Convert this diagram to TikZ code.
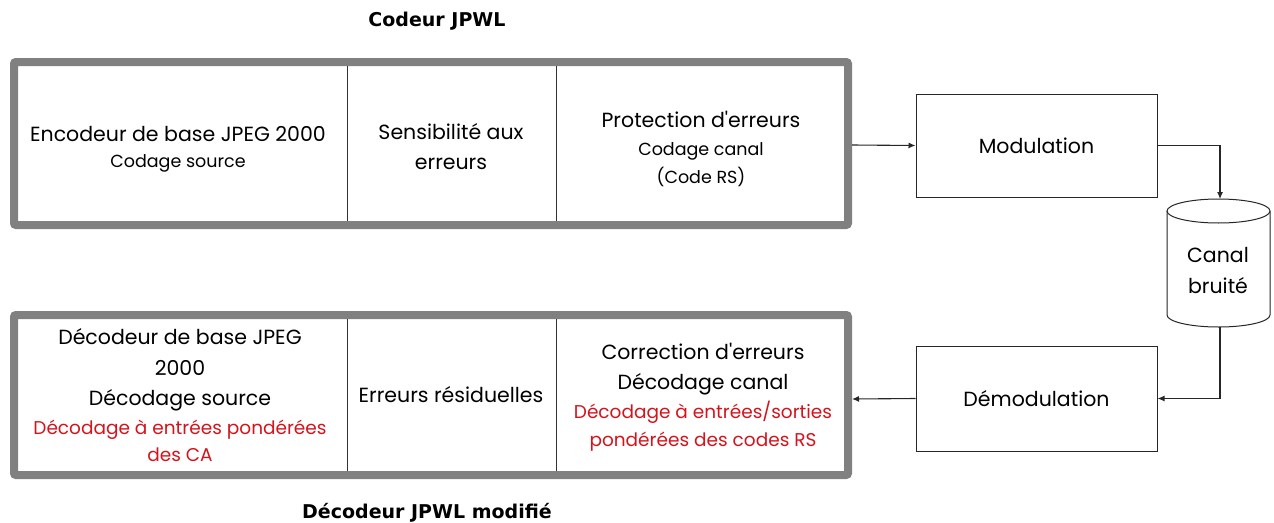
\documentclass[tikz,border=0pt]{standalone}
\usepackage{fontspec}
\setmainfont{Poppins}
\newfontfamily\titlefont{DejaVu Sans}
\usetikzlibrary{arrows.meta}
\definecolor{frame}{HTML}{808080}
\definecolor{redtxt}{HTML}{D4141C}
\tikzset{
  outer/.style={draw=frame, line width=8pt, rounded corners=2pt, fill=white},
  divider/.style={draw=black!80, line width=0.9pt},
  plainbox/.style={draw=black!85, line width=1pt, fill=white},
  conn/.style={draw=black!85, line width=1.1pt, -{Latex[length=7pt,width=6pt]}},
  ln/.style={anchor=base, inner sep=0pt, font=\fontsize{20.5}{24}\selectfont},
  lnsmall/.style={anchor=base, inner sep=0pt, font=\fontsize{17.5}{21}\selectfont},
  lnred/.style={anchor=base, inner sep=0pt, text=redtxt, font=\fontsize{18.5}{22}\selectfont},
  ttl/.style={anchor=base, inner sep=0pt, font=\titlefont\bfseries\fontsize{19}{22}\selectfont},
}
\begin{document}
\begin{tikzpicture}[x=1pt,y=-1pt]
\useasboundingbox (0,0) rectangle (1274,522);
% titles
\node[ttl] (t1) at (437,27) {Codeur JPWL};
\node[ttl] (t2) at (427,518) {Décodeur JPWL modifié};
% top encoder frame
\path[outer] (14,62) rectangle (848,225);
\draw[divider] (347,66) -- (347,221);
\draw[divider] (556,66) -- (556,221);
\coordinate (topR) at (852,145);
\node[ln] (e1a) at (178,141) {Encodeur de base JPEG 2000};
\node[lnsmall] (e1b) at (178,167) {Codage source};
\node[ln] (e2a) at (451,139) {Sensibilité aux};
\node[ln] (e2b) at (451,169) {erreurs};
\node[ln] (e3a) at (701,127) {Protection d\textquotesingle erreurs};
\node[lnsmall] (e3b) at (701,155) {Codage canal};
\node[lnsmall] (e3c) at (701,183) {(Code RS)};
% bottom decoder frame
\path[outer] (14,315) rectangle (848,475);
\draw[divider] (347,319) -- (347,471);
\draw[divider] (556,319) -- (556,471);
\coordinate (botR) at (852,399);
\node[ln] (d1a) at (180,344) {Décodeur de base JPEG};
\node[ln] (d1b) at (180,375) {2000};
\node[ln] (d1c) at (180,405) {Décodage source};
\node[lnred] (d1d) at (180,434) {Décodage à entrées pondérées};
\node[lnred] (d1e) at (180,461) {des CA};
\node[ln] (d2a) at (451,402) {Erreurs résiduelles};
\node[ln] (d3a) at (703,359) {Correction d\textquotesingle erreurs};
\node[ln] (d3b) at (703,389) {Décodage canal};
\node[lnred] (d3c) at (703,418) {Décodage à entrées/sorties};
\node[lnred] (d3d) at (703,446) {pondérées des codes RS};
% modulation boxes
\node[plainbox, minimum width=241pt, minimum height=103pt, font=\fontsize{20.5}{24}\selectfont] (mod) at (1036.5,145.5) {Modulation};
\node[plainbox, minimum width=241pt, minimum height=105pt, font=\fontsize{20.5}{24}\selectfont] (demod) at (1036.5,398.5) {Démodulation};
% cylinder
\draw[plainbox] (1167,211) -- (1167,315) arc[start angle=180, end angle=360, x radius=51.5pt, y radius=12pt] -- (1270,211);
\draw[plainbox] (1218.5,211) ellipse[x radius=51.5pt, y radius=12pt];
\coordinate (cylT) at (1220,199);
\coordinate (cylB) at (1220,327);
\node[ln] (canal1) at (1218,262) {Canal};
\node[ln] (canal2) at (1218,293) {bruité};
% connectors
\draw[conn] (topR) -- (mod.west);
\draw[conn] (mod.east) -| (cylT);
\draw[conn] (cylB) |- (demod.east);
\draw[conn] (demod.west) -- (botR);
\end{tikzpicture}
\end{document}
